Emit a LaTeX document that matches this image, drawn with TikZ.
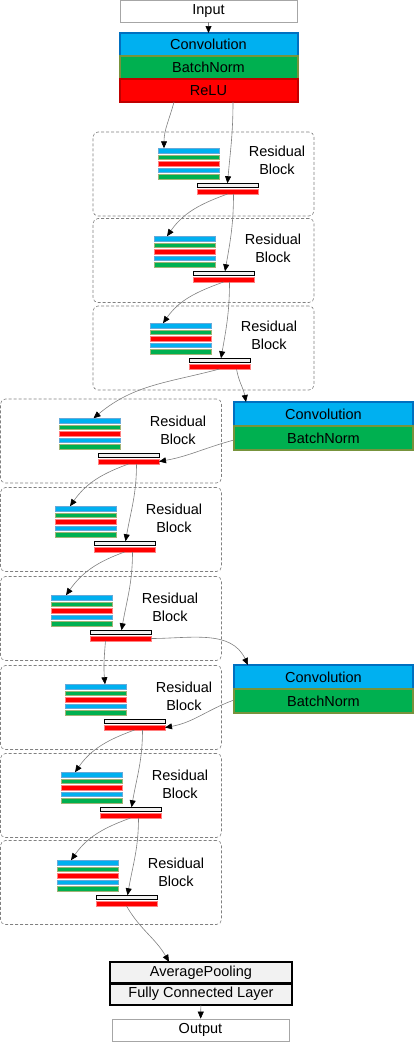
\documentclass[tikz,border=0pt]{standalone}
\usepackage{fontspec}
\setmainfont{Liberation Sans}
\usetikzlibrary{positioning, arrows.meta}

\definecolor{convblue}{HTML}{00B0F0}
\definecolor{convedge}{HTML}{0070C0}
\definecolor{bngreen}{HTML}{00B050}
\definecolor{bnedge}{HTML}{77933C}
\definecolor{relured}{HTML}{FF0000}
\definecolor{reluedge}{HTML}{C00000}
\definecolor{headgray}{HTML}{F2F2F2}

\begin{document}
\begin{tikzpicture}[
    x=1pt, y=-1pt,
    >={Triangle[length=7pt, width=6pt, color=black]},
    font=\fontsize{14.5}{18}\selectfont,
    conn/.style={->, draw=gray, line width=0.6pt},
    layer/.style={rectangle, minimum width=178pt, minimum height=23pt, inner sep=0pt, outer sep=0pt, line width=2pt},
    convl/.style={layer, fill=convblue, draw=convedge},
    bnl/.style={layer, fill=bngreen, draw=bnedge},
    relul/.style={layer, fill=relured, draw=reluedge},
    io/.style={rectangle, minimum width=177pt, minimum height=22pt, inner sep=0pt, draw=gray!70, line width=0.7pt},
    headl/.style={rectangle, minimum width=182pt, minimum height=21.5pt, inner sep=0pt, outer sep=0pt, fill=headgray, draw=black, line width=2.5pt},
    resblock/.style={rectangle, rounded corners=5pt, draw=gray, dash pattern=on 3pt off 2pt, line width=0.6pt, minimum width=221pt, minimum height=84pt},
    thinbar/.style={rectangle, minimum width=61pt, minimum height=4.5pt, inner sep=0pt, outer sep=0pt, line width=0.5pt},
    barblue/.style={thinbar, fill=convblue, draw=convedge!60},
    bargreen/.style={thinbar, fill=bngreen, draw=bnedge!70},
    barred/.style={thinbar, fill=relured, draw=relured!50},
    skipbar/.style={thinbar, fill=headgray, draw=black, line width=0.8pt},
    sumbar/.style={thinbar, minimum height=5pt, fill=relured, draw=relured!50},
    lbl/.style={align=center}
]
    \useasboundingbox (0,0) rectangle (414,1042);

    % --- Entrada e camada inicial ---
    \node[io] (input) at (208.5,11) {Input};
    \node[convl] (conv1) at (208.5,44.5) {Convolution};
    \node[bnl, below=0pt of conv1] (bn1) {BatchNorm};
    \node[relul, below=0pt of bn1] (relu1) {ReLU};

    % ==================================================
    % GRUPO 1: blocos residuais 1-3
    % ==================================================

    % --- Bloco 1 ---
    \node[resblock] (rb1) at (203.5,174) {};
    \node[barblue]  (s1a) at (188.5,150.5) {};
    \node[bargreen] (s1b) at (188.5,157) {};
    \node[barred]   (s1c) at (188.5,163.5) {};
    \node[barblue]  (s1d) at (188.5,170) {};
    \node[bargreen] (s1e) at (188.5,176.5) {};
    \node[skipbar]  (w1)  at (227.5,185.5) {};
    \node[sumbar]   (r1)  at (227.5,191.5) {};
    \node[lbl]      (t1)  at (277,160) {Residual\\Block};

    % --- Bloco 2 ---
    \node[resblock] (rb2) at (203.5,260.5) {};
    \node[barblue]  (s2a) at (184.5,238.5) {};
    \node[bargreen] (s2b) at (184.5,245) {};
    \node[barred]   (s2c) at (184.5,251.5) {};
    \node[barblue]  (s2d) at (184.5,258) {};
    \node[bargreen] (s2e) at (184.5,264.5) {};
    \node[skipbar]  (w2)  at (223.5,273.5) {};
    \node[sumbar]   (r2)  at (223.5,279.5) {};
    \node[lbl]      (t2)  at (273,248) {Residual\\Block};

    % --- Bloco 3 ---
    \node[resblock] (rb3) at (203.5,348) {};
    \node[barblue]  (s3a) at (180.5,325.5) {};
    \node[bargreen] (s3b) at (180.5,332) {};
    \node[barred]   (s3c) at (180.5,338.5) {};
    \node[barblue]  (s3d) at (180.5,345) {};
    \node[bargreen] (s3e) at (180.5,351.5) {};
    \node[skipbar]  (w3)  at (219.5,360.5) {};
    \node[sumbar]   (r3)  at (219.5,366.5) {};
    \node[lbl]      (t3)  at (269,335) {Residual\\Block};

    % --- Atalho com projecao 1 ---
    \node[convl, minimum width=179pt, minimum height=24pt] (conv2) at (323.5,414) {Convolution};
    \node[bnl, minimum width=179pt, minimum height=24pt, below=0pt of conv2] (bn2) {BatchNorm};

    % ==================================================
    % GRUPO 2: blocos residuais 4-6
    % ==================================================

    % --- Bloco 4 ---
    \node[resblock] (rb4) at (111,441) {};
    \node[barblue]  (s4a) at (89.5,420.5) {};
    \node[bargreen] (s4b) at (89.5,427) {};
    \node[barred]   (s4c) at (89.5,433.5) {};
    \node[barblue]  (s4d) at (89.5,440) {};
    \node[bargreen] (s4e) at (89.5,446.5) {};
    \node[skipbar]  (w4)  at (128.5,455.5) {};
    \node[sumbar]   (r4)  at (128.5,461.5) {};
    \node[lbl]      (t4)  at (178,430) {Residual\\Block};

    % --- Bloco 5 ---
    \node[resblock] (rb5) at (111,529.5) {};
    \node[barblue]  (s5a) at (85.5,508.5) {};
    \node[bargreen] (s5b) at (85.5,515) {};
    \node[barred]   (s5c) at (85.5,521.5) {};
    \node[barblue]  (s5d) at (85.5,528) {};
    \node[bargreen] (s5e) at (85.5,534.5) {};
    \node[skipbar]  (w5)  at (124.5,543.5) {};
    \node[sumbar]   (r5)  at (124.5,549.5) {};
    \node[lbl]      (t5)  at (174,518) {Residual\\Block};

    % --- Bloco 6 ---
    \node[resblock] (rb6) at (111,618.5) {};
    \node[barblue]  (s6a) at (81.5,597.5) {};
    \node[bargreen] (s6b) at (81.5,604) {};
    \node[barred]   (s6c) at (81.5,610.5) {};
    \node[barblue]  (s6d) at (81.5,617) {};
    \node[bargreen] (s6e) at (81.5,623.5) {};
    \node[skipbar]  (w6)  at (120.5,632.5) {};
    \node[sumbar]   (r6)  at (120.5,638.5) {};
    \node[lbl]      (t6)  at (170,607) {Residual\\Block};

    % --- Atalho com projecao 2 ---
    \node[convl, minimum width=179pt, minimum height=24pt] (conv3) at (323.5,677) {Convolution};
    \node[bnl, minimum width=179pt, minimum height=24pt, below=0pt of conv3] (bn3) {BatchNorm};

    % ==================================================
    % GRUPO 3: blocos residuais 7-9
    % ==================================================

    % --- Bloco 7 ---
    \node[resblock] (rb7) at (111,707.5) {};
    \node[barblue]  (s7a) at (95.5,686.5) {};
    \node[bargreen] (s7b) at (95.5,693) {};
    \node[barred]   (s7c) at (95.5,699.5) {};
    \node[barblue]  (s7d) at (95.5,706) {};
    \node[bargreen] (s7e) at (95.5,712.5) {};
    \node[skipbar]  (w7)  at (134.5,721.5) {};
    \node[sumbar]   (r7)  at (134.5,727.5) {};
    \node[lbl]      (t7)  at (184,696) {Residual\\Block};

    % --- Bloco 8 ---
    \node[resblock] (rb8) at (111,795.5) {};
    \node[barblue]  (s8a) at (91.5,774.5) {};
    \node[bargreen] (s8b) at (91.5,781) {};
    \node[barred]   (s8c) at (91.5,787.5) {};
    \node[barblue]  (s8d) at (91.5,794) {};
    \node[bargreen] (s8e) at (91.5,800.5) {};
    \node[skipbar]  (w8)  at (130.5,809.5) {};
    \node[sumbar]   (r8)  at (130.5,815.5) {};
    \node[lbl]      (t8)  at (180,784) {Residual\\Block};

    % --- Bloco 9 ---
    \node[resblock] (rb9) at (111,882.5) {};
    \node[barblue]  (s9a) at (87.5,862.5) {};
    \node[bargreen] (s9b) at (87.5,869) {};
    \node[barred]   (s9c) at (87.5,875.5) {};
    \node[barblue]  (s9d) at (87.5,882) {};
    \node[bargreen] (s9e) at (87.5,888.5) {};
    \node[skipbar]  (w9)  at (126.5,897.5) {};
    \node[sumbar]   (r9)  at (126.5,903.5) {};
    \node[lbl]      (t9)  at (176,872) {Residual\\Block};

    % --- Cabeca e saida ---
    \node[headl] (pool) at (201,972.5) {AveragePooling};
    \node[headl, below=0pt of pool] (fc) {Fully Connected Layer};
    \node[io] (output) at (200.5,1030) {Output};

    % --- Conexoes ---
    \draw[conn] (input) -- (conv1);
    \draw[conn] ([xshift=-34.5pt]relu1.south) to[out=255, in=90] ([xshift=6pt]s1a.north west);
    \draw[conn] ([xshift=24.5pt]relu1.south) to[out=270, in=85] (w1.north);

    \draw[conn] (r1.south) to[out=200, in=55] ([xshift=13pt]s2a.north west);   % 1 -> 2
    \draw[conn] ([xshift=6pt]r1.south) to[out=270, in=80] ([xshift=1.5pt]w2.north);
    \draw[conn] (r2.south) to[out=200, in=55] ([xshift=13pt]s3a.north west);   % 2 -> 3
    \draw[conn] ([xshift=6pt]r2.south) to[out=270, in=80] ([xshift=1.5pt]w3.north);

    \draw[conn] (r3.south) to[out=195, in=40] ([xshift=4pt]s4a.north);          % 3 -> 4
    \draw[conn] ([xshift=17pt]r3.south) to[out=280, in=100] ([xshift=12pt]conv2.north west);
    \draw[conn] ([yshift=-2pt]bn2.west) to[out=195, in=10] (r4.east);

    \draw[conn] (r4.south) to[out=200, in=55] ([xshift=15pt]s5a.north west);   % 4 -> 5
    \draw[conn] ([xshift=8pt]r4.south) to[out=270, in=80] ([xshift=1pt]w5.north);
    \draw[conn] (r5.south) to[out=200, in=55] ([xshift=15pt]s6a.north west);   % 5 -> 6
    \draw[conn] ([xshift=8pt]r5.south) to[out=270, in=80] ([xshift=1pt]w6.north);

    \draw[conn] ([xshift=-15pt]r6.south) to[out=265, in=95] ([xshift=9.5pt]s7a.north);   % 6 -> 7
    \draw[conn] (r6.east) to[out=0, in=115] ([xshift=14pt]conv3.north west);
    \draw[conn] ([yshift=1pt]bn3.west) to[out=200, in=10] (r7.east);

    \draw[conn] (r7.south) to[out=200, in=55] ([xshift=14pt]s8a.north west);   % 7 -> 8
    \draw[conn] ([xshift=8pt]r7.south) to[out=270, in=80] ([xshift=1pt]w8.north);
    \draw[conn] (r8.south) to[out=200, in=55] ([xshift=14pt]s9a.north west);   % 8 -> 9
    \draw[conn] ([xshift=8pt]r8.south) to[out=270, in=80] ([xshift=1pt]w9.north);

    \draw[conn] (r9.south) to[out=300, in=120] ([xshift=-32pt]pool.north);
    \draw[conn] (fc) -- (output);

\end{tikzpicture}
\end{document}
